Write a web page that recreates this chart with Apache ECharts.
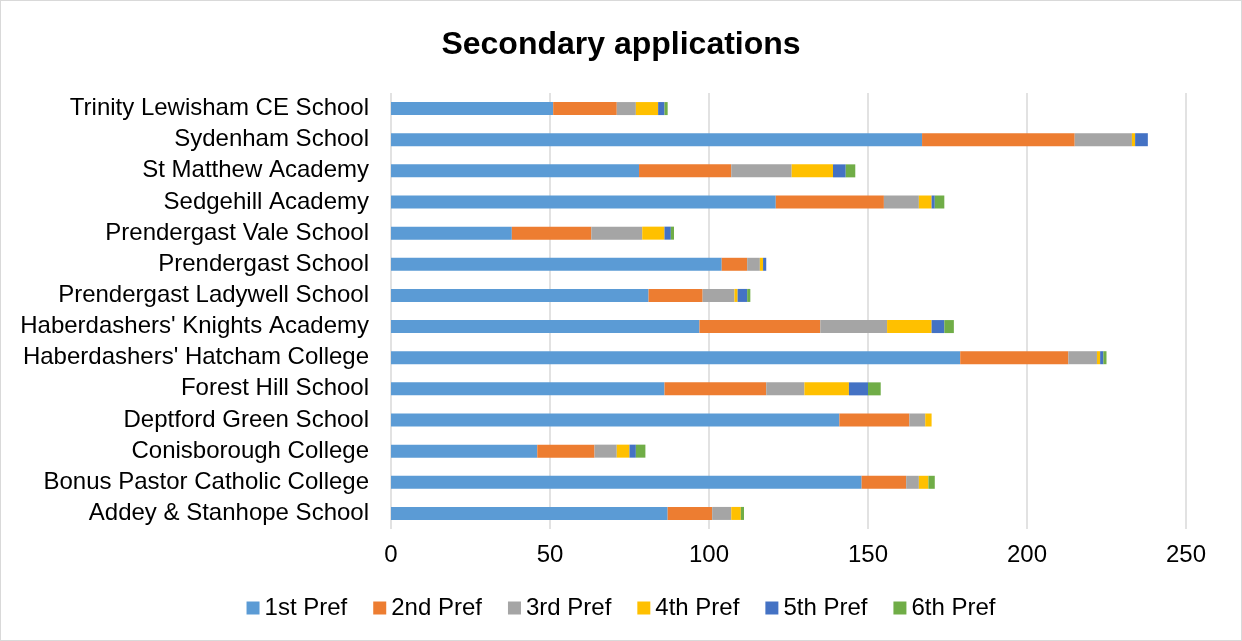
<!DOCTYPE html>
<html>
<head>
<meta charset="utf-8">
<script src="https://cdn.jsdelivr.net/npm/echarts@6/dist/echarts.min.js"></script>
<style>
html, body { margin: 0; padding: 0; background: #fff; }
#chart { width: 1240px; height: 639px; border: 1px solid #d9d9d9; }
</style>
</head>
<body>
<div id="chart"></div>
<script>
var schools = ["Addey & Stanhope School", "Bonus Pastor Catholic College", "Conisborough College",
	"Deptford Green School", "Forest Hill School", "Haberdashers' Hatcham College",
	"Haberdashers' Knights Academy", "Prendergast Ladywell School", "Prendergast School",
	"Prendergast Vale School", "Sedgehill Academy", "St Matthew Academy", "Sydenham School",
	"Trinity Lewisham CE School"];
var pref1 = [87, 148, 46, 141, 86, 179, 97, 81, 104, 38, 121, 78, 167, 51];
var pref2 = [14, 14, 18, 22, 32, 34, 38, 17, 8, 25, 34, 29, 48, 20];
var pref3 = [6, 4, 7, 5, 12, 9, 21, 10, 4, 16, 11, 19, 18, 6];
var pref4 = [3, 3, 4, 2, 14, 1, 14, 1, 1, 7, 4, 13, 1, 7];
var pref5 = [0, 0, 2, 0, 6, 1, 4, 3, 1, 2, 1, 4, 4, 2];
var pref6 = [1, 2, 3, 0, 4, 1, 3, 1, 0, 1, 3, 3, 0, 1];
var seriesNames = ["1st Pref", "2nd Pref", "3rd Pref", "4th Pref", "5th Pref", "6th Pref"];
var colors = ["#5B9BD5", "#ED7D31", "#A5A5A5", "#FFC000", "#4472C4", "#70AD47"];
var xTicks = [0, 50, 100, 150, 200, 250];

var allData = [pref1, pref2, pref3, pref4, pref5, pref6];
var series = [];
for (var i = 0; i < seriesNames.length; i++) {
	series.push({
		name: seriesNames[i],
		type: "bar",
		stack: "total",
		barWidth: 13,
		itemStyle: { color: colors[i] },
		data: allData[i]
	});
}

var myChart = echarts.init(document.getElementById("chart"));
var option = {
	animation: false,
	color: colors,
	title: {
		text: "Secondary applications",
		left: "center",
		top: 23,
		textStyle: { fontFamily: "Liberation Sans, Arial", fontSize: 32, fontWeight: "bold", color: "#000" }
	},
	legend: {
		data: seriesNames,
		bottom: 15,
		left: "center",
		icon: "rect",
		itemWidth: 13,
		itemHeight: 13,
		itemGap: 26,
		textStyle: { fontFamily: "Liberation Sans, Arial", fontSize: 24, color: "#000" }
	},
	grid: { left: 390, right: 55, top: 92, bottom: 111, containLabel: false },
	xAxis: {
		type: "value",
		min: xTicks[0],
		max: xTicks[xTicks.length - 1],
		interval: 50,
		axisLine: { show: false },
		axisTick: { show: false },
		axisLabel: { fontFamily: "Liberation Sans, Arial", fontSize: 24, color: "#000", margin: 14 },
		splitLine: { lineStyle: { color: "#d9d9d9", width: 1.5 } }
	},
	yAxis: {
		type: "category",
		data: schools,
		axisLine: { show: false },
		axisTick: { show: false },
		axisLabel: { interval: 0, fontFamily: "Liberation Sans, Arial", fontSize: 24, color: "#000", margin: 22 }
	},
	series: series
};
myChart.setOption(option);
</script>
</body>
</html>
